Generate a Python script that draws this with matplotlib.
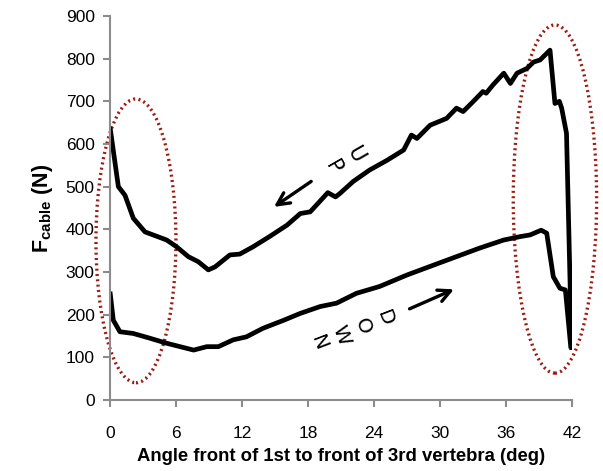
import matplotlib
matplotlib.use("Agg")
import matplotlib.pyplot as plt
from matplotlib.patches import Ellipse

plt.rcParams['font.family'] = ['Liberation Sans', 'DejaVu Sans']
plt.rcParams['mathtext.fontset'] = 'custom'
plt.rcParams['mathtext.rm'] = 'Liberation Sans:bold'
plt.rcParams['mathtext.bf'] = 'Liberation Sans:bold'

# UP curve (from high angle back to 0)
up_x = [41.97, 41.5, 41.06, 40.85, 40.45, 40.0, 39.1, 38.5, 37.9, 37.0, 36.4, 35.8, 34.8,
        34.2, 33.9, 33.0, 32.1, 31.5, 30.6, 29.1, 27.9, 27.4, 26.7, 25.2, 23.6, 22.1,
        20.9, 20.5, 19.8, 19.2, 18.2, 17.3, 16.1, 14.5, 13.0, 11.8, 10.9, 9.55, 8.94,
        8.03, 7.12, 6.06, 5.15, 3.18, 2.12, 1.36, 0.76, 0.0]
up_y = [117, 625, 684, 700, 695, 820, 797, 792, 777, 766, 742, 766, 738,
        719, 723, 699, 676, 684, 660, 644, 613, 621, 586, 562, 539, 512,
        484, 476, 486, 469, 441, 437, 410, 383, 359, 342, 340, 312, 305,
        324, 336, 359, 375, 394, 426, 480, 500, 640]

# DOWN curve (from 0 to high angle)
down_x = [0.0, 0.3, 0.9, 2.1, 3.6, 5.15, 7.6, 8.8, 9.85, 11.2, 12.4, 13.9, 15.8, 17.3,
          19.1, 20.6, 22.4, 24.5, 27.0, 29.4, 31.5, 33.6, 35.8, 37.3, 38.2, 39.2,
          39.7, 40.3, 40.9, 41.4, 41.9]
down_y = [254, 187, 160, 156, 145, 133, 117, 125, 125, 141, 148, 168, 187, 203,
          219, 227, 250, 266, 293, 316, 336, 356, 375, 383, 387, 398,
          391, 289, 262, 258, 121]

x_ticks = [0, 6, 12, 18, 24, 30, 36, 42]
y_ticks = [0, 100, 200, 300, 400, 500, 600, 700, 800, 900]

fig = plt.figure(figsize=(6.03, 4.71), dpi=100)
ax = fig.add_axes([110/603, 71/471, 462/603, 384/471])

ax.plot(up_x, up_y, color='black', lw=3.4, solid_joinstyle='round', solid_capstyle='butt')
ax.plot(down_x, down_y, color='black', lw=3.4, solid_joinstyle='round', solid_capstyle='butt')

ax.set_xlim(0, 42)
ax.set_ylim(0, 900)
ax.set_xticks(x_ticks)
ax.set_yticks(y_ticks)

gray = '#8c8c8c'
for s in ['top', 'right']:
    ax.spines[s].set_visible(False)
for s in ['left', 'bottom']:
    ax.spines[s].set_color(gray)
    ax.spines[s].set_linewidth(1.5)
ax.tick_params(axis='both', direction='out', color=gray, width=1.5, length=5,
               labelsize=12.5, labelcolor='black')
ax.tick_params(axis='x', pad=14)
ax.tick_params(axis='y', pad=6)

ax.set_xlabel('Angle front of 1st to front of 3rd vertebra (deg)', fontsize=13.3,
              fontweight='bold', labelpad=5)
ax.set_ylabel(r'$\mathrm{F}_{\mathrm{cable}}$ (N)', fontsize=15.5, fontweight='bold', labelpad=8)

dred = '#9b1c12'
e1 = Ellipse((2.36, 373), 7.27, 665, fill=False, edgecolor=dred, lw=2.4,
             linestyle=(0, (0.6, 1.0)), clip_on=False)
e2 = Ellipse((40.45, 471), 7.58, 816, fill=False, edgecolor=dred, lw=2.4,
             linestyle=(0, (0.6, 1.0)), clip_on=False)
ax.add_patch(e1)
ax.add_patch(e2)

ax.annotate('', xy=(14.7, 449), xytext=(18.5, 516),
            arrowprops=dict(arrowstyle='->', lw=2.4, color='black', mutation_scale=22))
ax.annotate('', xy=(31.5, 262), xytext=(27.0, 211),
            arrowprops=dict(arrowstyle='->', lw=2.4, color='black', mutation_scale=22))

ax.text(21.3, 560, 'U\nP', rotation=-60, ha='center', va='center', fontsize=15,
        family='DejaVu Sans', color='black', linespacing=1.35, rotation_mode='anchor')
ax.text(22.0, 162, 'D\nO\nW\nN', rotation=-69, ha='center', va='center', fontsize=14.5,
        family='DejaVu Sans', color='black', linespacing=1.3, rotation_mode='anchor')

fig.savefig('out.png', dpi=100)
